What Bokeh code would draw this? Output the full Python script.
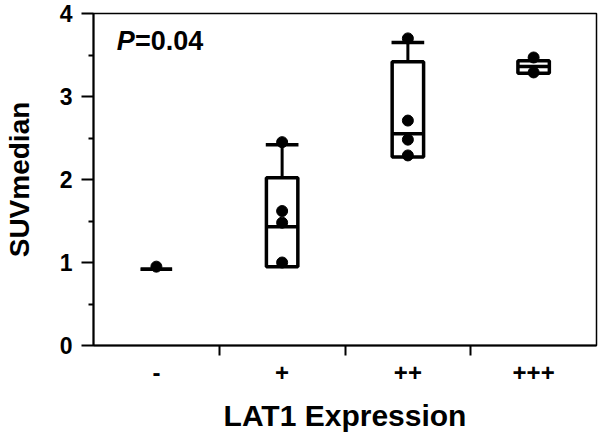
from bokeh.plotting import figure
from bokeh.models import FixedTicker, Range1d, Label, ColumnDataSource
from bokeh.embed import file_html
from bokeh.resources import INLINE

# ---- data ----
categories = ["-", "+", "++", "+++"]
q1 = [0.92, 0.95, 2.27, 3.28]
median = [0.92, 1.43, 2.55, 3.36]
q3 = [0.92, 2.02, 3.42, 3.43]
whisker_high = [0.92, 2.42, 3.65, 3.43]

point_group = [0, 1, 1, 1, 1, 2, 2, 2, 2, 3, 3]
point_value = [0.95, 2.45, 1.62, 1.48, 1.00, 3.70, 2.71, 2.48, 2.29, 3.47, 3.29]

y_ticks = [0, 1, 2, 3, 4]
y_minor = [0.5, 1.5, 2.5, 3.5]
p_text = "=0.04"

FONT = "Liberation Sans"
BW = 0.25   # box width (data units)
CW = 0.26   # cap width

xs = list(range(len(categories)))

p = figure(frame_width=503, frame_height=332,
           min_border_left=92, min_border_top=13, min_border_right=3, min_border_bottom=88,
           x_range=Range1d(-0.5, len(categories) - 0.5), y_range=Range1d(0, 4),
           output_backend="svg", toolbar_location=None,
           background_fill_color="white", border_fill_color="white")

p.xgrid.visible = False
p.ygrid.visible = False
p.outline_line_color = "black"
p.outline_line_width = 1.5
p.outline_line_alpha = 1

# boxes
box_src = ColumnDataSource(dict(
    left=[x - BW / 2 for x in xs], right=[x + BW / 2 for x in xs],
    bottom=q1, top=q3))
p.quad(left="left", right="right", bottom="bottom", top="top", source=box_src,
       fill_color="white", line_color="black", line_width=3.5)

# medians
p.segment(x0=[x - BW / 2 for x in xs], x1=[x + BW / 2 for x in xs],
          y0=median, y1=median, line_color="black", line_width=3.5)

# upper whiskers (only where above box)
wx = [x for x, a, b in zip(xs, q3, whisker_high) if b > a]
wlo = [a for a, b in zip(q3, whisker_high) if b > a]
whi = [b for a, b in zip(q3, whisker_high) if b > a]
p.segment(x0=wx, x1=wx, y0=wlo, y1=whi, line_color="black", line_width=3)
p.segment(x0=[x - CW / 2 for x in wx], x1=[x + CW / 2 for x in wx],
          y0=whi, y1=whi, line_color="black", line_width=3.5)

# individual points
p.scatter(x=point_group, y=point_value, size=11, marker="circle",
          fill_color="black", line_color="black")

# P value annotation
lab1 = Label(x=-0.315, y=3.49, text="P", text_font=FONT, text_font_size="27px",
             text_font_style="bold italic", text_color="black")
lab2 = Label(x=-0.17, y=3.49, text=p_text, text_font=FONT, text_font_size="27px",
             text_font_style="bold", text_color="black")
p.add_layout(lab1)
p.add_layout(lab2)

# x axis
xax = p.xaxis[0]
xax.ticker = FixedTicker(ticks=xs, minor_ticks=[x + 0.5 for x in xs[:-1]])
xax.major_label_overrides = {i: c for i, c in enumerate(categories)}
xax.major_tick_out = 0
xax.major_tick_in = 0
xax.minor_tick_out = 10
xax.minor_tick_in = 0
xax.minor_tick_line_width = 2
xax.minor_tick_line_color = "black"
xax.axis_line_width = 2
xax.axis_line_color = "black"
xax.major_label_text_font = FONT
xax.major_label_text_font_style = "bold"
xax.major_label_text_font_size = "24px"
xax.major_label_text_color = "black"
xax.major_label_standoff = 8
xax.axis_label = "LAT1 Expression"
xax.axis_label_text_font = FONT
xax.axis_label_text_font_style = "bold"
xax.axis_label_text_font_size = "30px"
xax.axis_label_text_color = "black"
xax.axis_label_standoff = 15

# y axis
yax = p.yaxis[0]
yax.ticker = FixedTicker(ticks=y_ticks, minor_ticks=y_minor)
yax.major_tick_out = 12
yax.major_tick_in = 0
yax.minor_tick_out = 5
yax.minor_tick_in = 0
yax.major_tick_line_width = 2
yax.minor_tick_line_width = 2
yax.major_tick_line_color = "black"
yax.minor_tick_line_color = "black"
yax.axis_line_width = 2
yax.axis_line_color = "black"
yax.major_label_text_font = FONT
yax.major_label_text_font_style = "bold"
yax.major_label_text_font_size = "23px"
yax.major_label_text_color = "black"
yax.major_label_standoff = 9
yax.axis_label = "SUVmedian"
yax.axis_label_text_font = FONT
yax.axis_label_text_font_style = "bold"
yax.axis_label_text_font_size = "28px"
yax.axis_label_text_color = "black"
yax.axis_label_standoff = 22

open("out.html", "w").write(file_html(p, INLINE))
